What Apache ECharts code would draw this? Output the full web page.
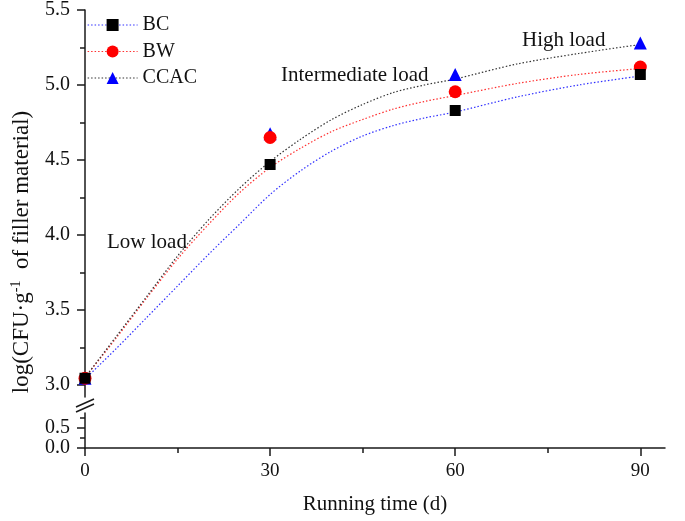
<!DOCTYPE html>
<html><head><meta charset="utf-8">
<script src="https://cdn.jsdelivr.net/npm/echarts@6/dist/echarts.min.js"></script>
<style>html,body{margin:0;padding:0;background:#fff}#c{width:685px;height:521px}</style>
</head><body><div id="c"></div>
<script>
// Measured points
const days = [0, 30, 60, 90];
const bcValues = [3.045, 4.47, 4.83, 5.07];
const bwValues = [3.045, 4.65, 4.955, 5.12];
const ccacValues = [3.045, 4.675, 5.07, 5.28];
// Fitted curves
const fitDays = [0, 5, 10, 15, 20, 25, 30, 35, 40, 45, 50, 55, 60, 70, 80, 90];
const bcFit = [3.04, 3.24, 3.45, 3.66, 3.87, 4.07, 4.27, 4.43, 4.56, 4.66, 4.73, 4.78, 4.82, 4.92, 5.00, 5.06];
const bwFit = [3.05, 3.31, 3.58, 3.84, 4.07, 4.28, 4.45, 4.58, 4.69, 4.77, 4.84, 4.89, 4.93, 5.01, 5.07, 5.11];
const ccacFit = [3.05, 3.32, 3.59, 3.86, 4.10, 4.31, 4.49, 4.64, 4.77, 4.87, 4.95, 5.00, 5.04, 5.14, 5.21, 5.27];
// Ticks
const xMajorTicks = [0, 30, 60, 90];
const xMinorTicks = [15, 45, 75];
const yUpperMajor = [3.0, 3.5, 4.0, 4.5, 5.0, 5.5];
const yUpperMinor = [3.25, 3.75, 4.25, 4.75, 5.25];
const yLowerMajor = [0.0, 0.5];
const yLowerMinor = [0.25, 0.75];
const seriesNames = ['BC', 'BW', 'CCAC'];
const annotations = ['High load', 'Intermediate load', 'Low load'];
const xName = 'Running time (d)';

const FONT = "'Liberation Serif', 'Times New Roman', serif";
const AX = '#1a1a1a';
const pair = (xs, ys) => xs.map((x, i) => [x, ys[i]]);

const chart = echarts.init(document.getElementById('c'), null, {renderer: 'canvas'});

function yAx(grid, min, max, vals, len, labels) {
  return {
    type: 'value', gridIndex: grid, position: 'left', min: min, max: max,
    axisLine: {show: labels, lineStyle: {color: AX, width: 1.5}},
    axisTick: {show: true, customValues: vals, length: len, lineStyle: {color: AX, width: 1.5}},
    axisLabel: labels ? {show: true, customValues: vals, formatter: v => v.toFixed(1),
      fontFamily: FONT, fontSize: 20, color: '#111', margin: 15} : {show: false},
    splitLine: {show: false}
  };
}

const option = {
  animation: false,
  backgroundColor: '#fff',
  grid: [
    {left: 85, right: 20, top: 10, height: 387},
    {left: 85, right: 20, top: 413, height: 35}
  ],
  xAxis: [
    {type: 'value', gridIndex: 0, min: 0, max: 94, show: false},
    {type: 'value', gridIndex: 1, position: 'bottom', min: 0, max: 94,
      axisLine: {onZero: false, lineStyle: {color: AX, width: 1.5}},
      axisTick: {customValues: xMajorTicks, length: 8, lineStyle: {color: AX, width: 1.5}},
      axisLabel: {customValues: xMajorTicks, fontFamily: FONT, fontSize: 19, color: '#111', margin: 14},
      splitLine: {show: false},
      name: xName, nameLocation: 'middle', nameGap: 46,
      nameTextStyle: {fontFamily: FONT, fontSize: 21, color: '#111'}},
    {type: 'value', gridIndex: 1, position: 'bottom', min: 0, max: 94,
      axisLine: {show: false, onZero: false},
      axisTick: {customValues: xMinorTicks, length: 5, lineStyle: {color: AX, width: 1.5}},
      axisLabel: {show: false}, splitLine: {show: false}}
  ],
  yAxis: [
    yAx(0, 2.92, 5.5, yUpperMajor, 8, true),
    yAx(0, 2.92, 5.5, yUpperMinor, 5, false),
    yAx(1, 0, 0.875, yLowerMajor, 8, true),
    yAx(1, 0, 0.875, yLowerMinor, 5, false)
  ],
  legend: {
    orient: 'vertical', left: 82, top: 10, itemWidth: 50, itemHeight: 15, itemGap: 6.5,
    textStyle: {fontFamily: FONT, fontSize: 20, color: '#111', lineHeight: 20},
    data: [
      {name: seriesNames[0], lineStyle: {color: '#3030ff', type: [1.5, 2], width: 1.2, opacity: 1}},
      {name: seriesNames[1], lineStyle: {color: '#ff3030', type: [1.5, 2], width: 1.2, opacity: 1}},
      {name: seriesNames[2], lineStyle: {color: '#333', type: [1.5, 2], width: 1.2, opacity: 1}}
    ]
  },
  graphic: [
    {type: 'text', x: 22, y: 252, rotation: Math.PI / 2,
      style: {text: 'log(CFU·g{sup|-1}  of filler material)', align: 'center', verticalAlign: 'middle',
        font: "23px 'Liberation Serif', serif", fill: '#111',
        rich: {sup: {fontSize: 14, fontFamily: FONT, verticalAlign: 'top', lineHeight: 26, fill: '#111'}}}},
    {type: 'text', x: 522, y: 40, style: {text: annotations[0], align: 'left', verticalAlign: 'middle', font: "21px 'Liberation Serif', serif", fill: '#111'}},
    {type: 'text', x: 281, y: 75, style: {text: annotations[1], align: 'left', verticalAlign: 'middle', font: "21px 'Liberation Serif', serif", fill: '#111'}},
    {type: 'text', x: 107, y: 242, style: {text: annotations[2], align: 'left', verticalAlign: 'middle', font: "21px 'Liberation Serif', serif", fill: '#111'}},
    {type: 'line', shape: {x1: 76, y1: 407, x2: 94, y2: 399}, style: {stroke: AX, lineWidth: 1.5}},
    {type: 'line', shape: {x1: 76, y1: 412, x2: 94, y2: 404}, style: {stroke: AX, lineWidth: 1.5}}
  ],
  series: [
    {name: 'BC fit', type: 'line', xAxisIndex: 0, yAxisIndex: 0, data: pair(fitDays, bcFit), smooth: 0.3,
      showSymbol: false, lineStyle: {color: '#3030ff', width: 1.2, type: [1.5, 2]}, z: 1, silent: true},
    {name: 'BW fit', type: 'line', xAxisIndex: 0, yAxisIndex: 0, data: pair(fitDays, bwFit), smooth: 0.3,
      showSymbol: false, lineStyle: {color: '#ff3030', width: 1.2, type: [1.5, 2]}, z: 1, silent: true},
    {name: 'CCAC fit', type: 'line', xAxisIndex: 0, yAxisIndex: 0, data: pair(fitDays, ccacFit), smooth: 0.3,
      showSymbol: false, lineStyle: {color: '#333', width: 1.2, type: [1.5, 2]}, z: 1, silent: true},
    {name: seriesNames[2], type: 'line', xAxisIndex: 0, yAxisIndex: 0, data: pair(days, ccacValues),
      symbol: 'triangle', symbolSize: 13, itemStyle: {color: '#0000ff'}, lineStyle: {opacity: 0}, z: 3},
    {name: seriesNames[1], type: 'line', xAxisIndex: 0, yAxisIndex: 0, data: pair(days, bwValues),
      symbol: 'circle', symbolSize: 13, itemStyle: {color: '#ff0000'}, lineStyle: {opacity: 0}, z: 4},
    {name: seriesNames[0], type: 'line', xAxisIndex: 0, yAxisIndex: 0, data: pair(days, bcValues),
      symbol: 'rect', symbolSize: 11, itemStyle: {color: '#000'}, lineStyle: {opacity: 0}, z: 5}
  ]
};
chart.setOption(option);
</script>
</body></html>
